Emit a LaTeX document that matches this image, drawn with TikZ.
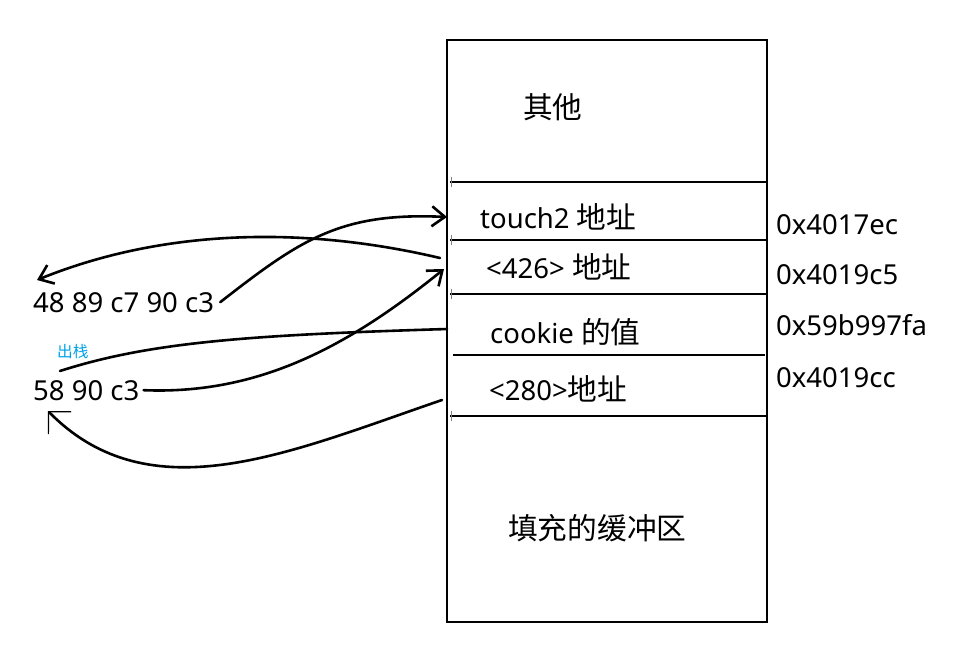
\documentclass[tikz,border=0pt]{standalone}
\usepackage{fontspec}
\setmainfont{Noto Sans}
\newfontfamily\zh[Scale=1.08]{Noto Sans CJK SC}
\usetikzlibrary{arrows.meta}
\definecolor{popblue}{RGB}{0,162,232}

\begin{document}
\begin{tikzpicture}[x=1pt,y=-1pt,
  frame/.style={line width=2.4pt},
  tick/.style={line width=1pt,gray},
  txt/.style={anchor=base west,inner sep=0pt,font=\fontsize{27.5}{30}\selectfont},
  small/.style={anchor=base west,inner sep=0pt,font=\fontsize{14.5}{16}\selectfont,text=popblue},
  flow/.style={line width=2.6pt,line cap=round},
  barb/.style={-{Straight Barb[length=13pt,width=20pt]}},
  hook/.style={-{Straight Barb[length=16pt,width=32pt,line width'=1.2pt]}}]
\useasboundingbox (0,0) rectangle (968,659);
\draw [frame] (447,40) rectangle (767,622);
\draw [frame] (450,182) -- (767,182); \draw [frame] (450,240) -- (767,240);
\draw [frame] (450,294) -- (767,294); \draw [frame] (453,355) -- (765,355);
\draw [frame] (450,416) -- (767,416);
\foreach \y in {182,240,294,416} \draw [tick] (451,\y-5) -- (451,\y+5);
\node [txt] (other) at (523,118) {\zh 其他};
\node [txt] (touch) at (480,228) {touch2 {\zh 地址}};
\node [txt] (pop) at (486,278) {<426> {\zh 地址}};
\node [txt] (cookie) at (490,343) {cookie {\zh 的值}};
\node [txt] (mov) at (489,400) {<280>{\zh 地址}};
\node [txt] (buf) at (508,539) {\zh 填充的缓冲区};
\node [txt] (a1) at (776,234) {0x4017ec};
\node [txt] (a2) at (776,284) {0x4019c5};
\node [txt] (a3) at (776,335) {0x59b997fa};
\node [txt] (a4) at (776,387) {0x4019cc};
\node [txt] (gmov) at (33,312) {48 89 c7 90 c3};
\node [txt] (gpop) at (33,400) {58 90 c3};
\node [small] (note) at (57,357) {\zh 出栈};
\coordinate (popout) at (440,258); \coordinate (movtip) at (37,280);
\coordinate (touchin) at (447,217); \coordinate (cookieout) at (447,329);
\coordinate (notefrom) at (60,371); \coordinate (popin) at (444,269);
\coordinate (movout) at (442,400); \coordinate (gpoptip) at (48,411);
\draw [flow,barb] (popout) .. controls (300,225) and (160,230) .. (movtip);
\draw [flow,barb] ([xshift=6pt]gmov.east) .. controls (300,240) and (340,212) .. (touchin);
\draw [flow] (notefrom) .. controls (150,342) and (250,335) .. (cookieout);
\draw [flow,barb] ([xshift=4pt]gpop.east) .. controls (260,395) and (350,345) .. (popin);
\draw [flow,hook] (movout) .. controls (290,452) and (150,515) .. (gpoptip);
\end{tikzpicture}
\end{document}
